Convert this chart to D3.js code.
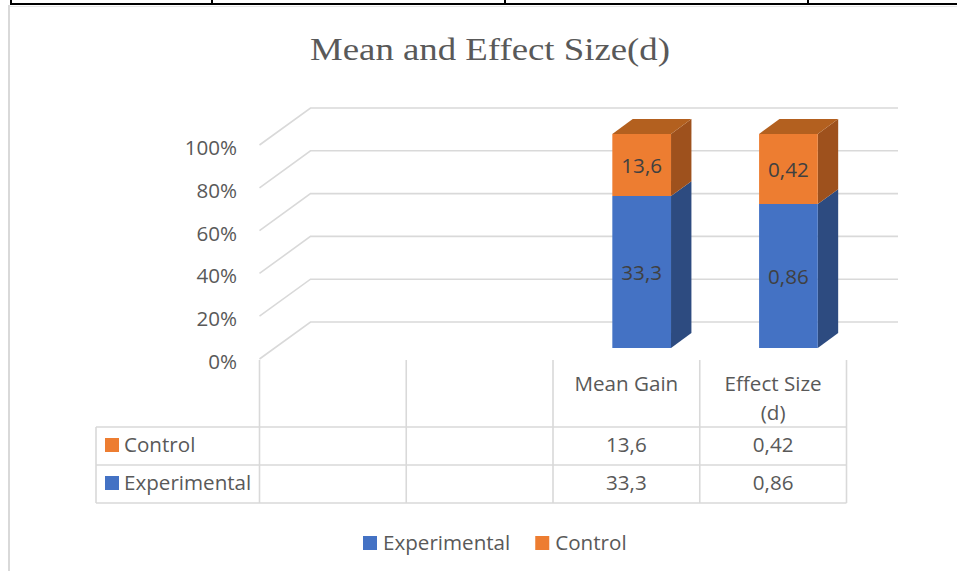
<!DOCTYPE html>
<html>
<head>
<meta charset="utf-8">
<script src="https://cdn.jsdelivr.net/npm/d3@7"></script>
<style>
  html, body { margin: 0; padding: 0; background: #fff; }
  svg { display: block; }
</style>
</head>
<body>
<svg id="chart" width="957" height="571"></svg>
<script>
// ---- data ----
const categories = ["", "", "Mean Gain", "Effect Size (d)"];
const seriesNames = ["Experimental", "Control"];
const experimental = [null, null, 33.3, 0.86];
const control = [null, null, 13.6, 0.42];
const yTicks = [0, 0.2, 0.4, 0.6, 0.8, 1.0];
const chartTitle = "Mean and Effect Size(d)";
const legendOrder = ["Experimental", "Control"];
const tableOrder = ["Control", "Experimental"];

// ---- styles ----
const colors = {
  Experimental: { front: "#4472C4", side: "#2D4B80", top: "#3A62A8" },
  Control: { front: "#ED7D31", side: "#9E511D", top: "#B3601F" }
};
const textGray = "#595959";
const gridGray = "#D9D9D9";
const sans = "'Open Sans', 'Noto Sans', sans-serif";
const fs = 20.6;
const fmt = d3.formatLocale({ decimal: ",", thousands: ".", grouping: [3], currency: ["", ""] }).format(",~r");

const svg = d3.select("#chart");

// page frame (surrounding document table + chart border)
svg.append("line").attr("x1", 9).attr("x2", 9).attr("y1", 5).attr("y2", 571)
  .attr("stroke", gridGray).attr("stroke-width", 2);
svg.append("line").attr("x1", 10).attr("x2", 957).attr("y1", 6.5).attr("y2", 6.5)
  .attr("stroke", "#E6E6E6").attr("stroke-width", 1);
svg.append("line").attr("x1", 10).attr("x2", 957).attr("y1", 4).attr("y2", 4)
  .attr("stroke", "#000").attr("stroke-width", 2);
[11, 212, 505, 808].forEach(x => {
  svg.append("line").attr("x1", x).attr("x2", x).attr("y1", 0).attr("y2", 4)
    .attr("stroke", "#000").attr("stroke-width", 2);
});

// title
svg.append("text")
  .attr("x", 490).attr("y", 60)
  .attr("text-anchor", "middle")
  .attr("font-family", "'Liberation Serif', 'Times New Roman', serif")
  .attr("font-size", 32)
  .attr("fill", textGray)
  .attr("textLength", 360)
  .attr("lengthAdjust", "spacingAndGlyphs")
  .text(chartTitle);

// ---- scales ----
const xFrontLeft = 259.5, xFrontRight = 846.5;
const x = d3.scaleBand().domain(d3.range(categories.length))
  .range([xFrontLeft, xFrontRight]).paddingInner(0.6).paddingOuter(0.3);
const y = d3.scaleLinear().domain([0, 1]).range([359, 145]);
const dxDepth = d3.scaleLinear().domain([0, 1]).range([0, 51]);
const dyDepth = d3.scaleLinear().domain([0, 1]).range([0, -37]);
const proj = (px, v, z) => [px + dxDepth(z), y(v) + dyDepth(z)];

// gridlines: side wall + back wall
const backRight = 898;
const grid = svg.append("g");
yTicks.forEach(t => {
  const a = proj(xFrontLeft, t, 0), b = proj(xFrontLeft, t, 1);
  const c = [backRight, b[1]];
  grid.append("path")
    .attr("d", `M${a[0]},${a[1]}L${b[0]},${b[1]}L${c[0]},${c[1]}`)
    .attr("fill", "none").attr("stroke", gridGray).attr("stroke-width", 1.6);
});

// y tick labels
svg.append("g").selectAll("text").data(yTicks).join("text")
  .attr("x", 237).attr("y", d => y(d) + 10)
  .attr("text-anchor", "end")
  .attr("font-family", sans).attr("font-size", fs).attr("fill", textGray)
  .text(d3.format(".0%"));

// ---- bars (100% stacked, 3D) ----
const zFront = 0.3, zBack = 0.7;
const barsG = svg.append("g");
categories.forEach((cat, i) => {
  const e = experimental[i], c = control[i];
  if (e == null || c == null) return;
  const total = e + c;
  const segs = [
    { name: "Experimental", v0: 0, v1: e / total, val: e },
    { name: "Control", v0: e / total, v1: 1, val: c }
  ];
  const x0 = x(i), x1 = x(i) + x.bandwidth();
  segs.forEach((s, si) => {
    const col = colors[s.name];
    const fTL = proj(x0, s.v1, zFront), fTR = proj(x1, s.v1, zFront);
    const fBL = proj(x0, s.v0, zFront), fBR = proj(x1, s.v0, zFront);
    const bTL = proj(x0, s.v1, zBack), bTR = proj(x1, s.v1, zBack);
    const bBR = proj(x1, s.v0, zBack);
    const poly = pts => "M" + pts.map(p => p.join(",")).join("L") + "Z";
    barsG.append("path").attr("d", poly([fTR, bTR, bBR, fBR])).attr("fill", col.side);
    if (si === segs.length - 1) {
      barsG.append("path").attr("d", poly([fTL, fTR, bTR, bTL])).attr("fill", col.top);
    }
    barsG.append("path").attr("d", poly([fTL, fTR, fBR, fBL])).attr("fill", col.front);
    barsG.append("text")
      .attr("x", (fTL[0] + fTR[0]) / 2)
      .attr("y", (fTL[1] + fBL[1]) / 2 + 8)
      .attr("text-anchor", "middle")
      .attr("font-family", sans).attr("font-size", fs).attr("fill", "#404040")
      .text(fmt(s.val));
  });
});

// ---- data table ----
const tableLeft = 96;
const headerTop = 360, row1Top = 427, row2Top = 465, tableBottom = 503;
const tbl = svg.append("g").attr("stroke", gridGray).attr("stroke-width", 1.6);
const bounds = d3.range(categories.length + 1).map(k => xFrontLeft + k * x.step());
bounds.forEach(bx => {
  tbl.append("line").attr("x1", bx).attr("x2", bx).attr("y1", headerTop).attr("y2", tableBottom);
});
tbl.append("line").attr("x1", tableLeft).attr("x2", tableLeft).attr("y1", row1Top).attr("y2", tableBottom);
[row1Top, row2Top, tableBottom].forEach(ry => {
  tbl.append("line").attr("x1", tableLeft).attr("x2", xFrontRight).attr("y1", ry).attr("y2", ry);
});

// category labels (wrapped, one text element per line)
const catG = svg.append("g");
categories.forEach((cat, i) => {
  if (!cat) return;
  const cx = xFrontLeft + (i + 0.5) * x.step();
  const words = cat.split(" ");
  let lines = [], line = [];
  const tmp = catG.append("text").attr("font-family", sans).attr("font-size", fs);
  words.forEach(w => {
    const trial = line.concat([w]).join(" ");
    tmp.text(trial);
    if (tmp.node().getComputedTextLength() > x.step() * 0.82 && line.length) {
      lines.push(line.join(" "));
      line = [w];
    } else line.push(w);
  });
  lines.push(line.join(" "));
  tmp.remove();
  lines.forEach((l, li) => {
    catG.append("text")
      .attr("x", cx).attr("y", 391 + li * 29)
      .attr("text-anchor", "middle")
      .attr("font-family", sans).attr("font-size", fs).attr("fill", textGray)
      .text(l);
  });
});

// table rows
const rows = tableOrder.map(name => ({
  name,
  vals: name === "Experimental" ? experimental : control,
  top: name === "Control" ? row1Top : row2Top
}));
rows.forEach(r => {
  const g = svg.append("g");
  const base = r.top + 25;
  g.append("rect").attr("x", 105).attr("y", r.top + 11).attr("width", 14).attr("height", 14)
    .attr("fill", colors[r.name].front);
  g.append("text").attr("x", 124).attr("y", base)
    .attr("font-family", sans).attr("font-size", fs).attr("fill", textGray).text(r.name);
  r.vals.forEach((v, i) => {
    if (v == null) return;
    g.append("text").attr("x", xFrontLeft + (i + 0.5) * x.step()).attr("y", base)
      .attr("text-anchor", "middle")
      .attr("font-family", sans).attr("font-size", fs).attr("fill", textGray)
      .text(fmt(v));
  });
});

// ---- legend ----
const legend = svg.append("g");
let lx = 363;
legendOrder.forEach(name => {
  legend.append("rect").attr("x", lx).attr("y", 536).attr("width", 14).attr("height", 14)
    .attr("fill", colors[name].front);
  const t = legend.append("text").attr("x", lx + 20).attr("y", 550)
    .attr("font-family", sans).attr("font-size", fs).attr("fill", textGray).text(name);
  lx += 20 + t.node().getComputedTextLength() + 25;
});
</script>
</body>
</html>
